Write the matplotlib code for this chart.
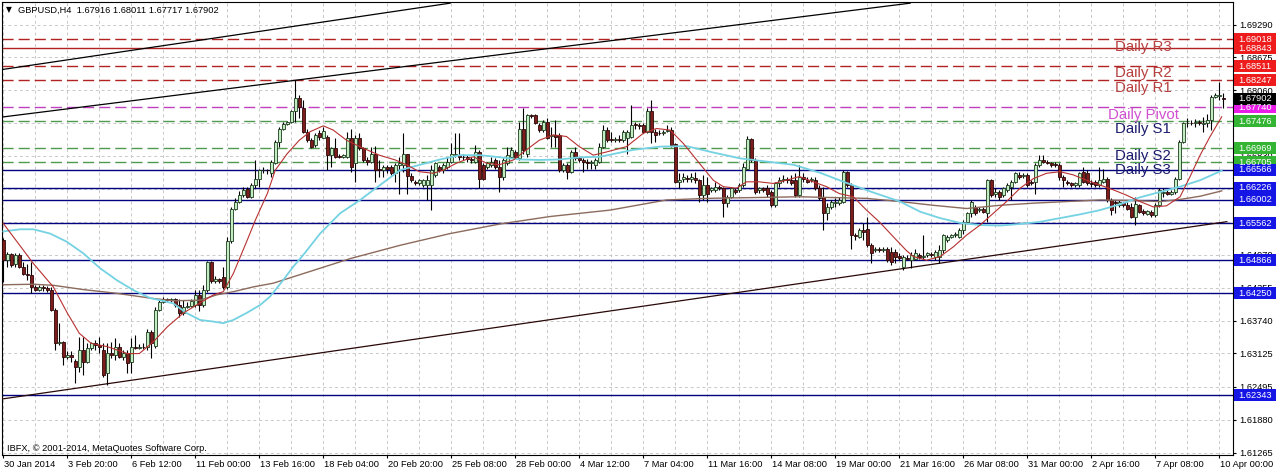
import matplotlib
matplotlib.use("Agg")
import matplotlib.pyplot as plt
import numpy as np
from matplotlib.patches import Rectangle
from matplotlib.transforms import blended_transform_factory, ScaledTranslation

plt.rcParams['font.family'] = ['Liberation Sans', 'DejaVu Sans']

# GBPUSD H4 candles, 306 bars (30 Jan 2014 .. 10 Apr 2014)
opens = [
    1.6525, 1.6487, 1.6498, 1.6480, 1.6497, 1.6475, 1.6462, 1.6459, 1.6437, 1.6432,
    1.6437, 1.6435, 1.6431, 1.6394, 1.6332, 1.6334, 1.6306, 1.6310, 1.6299, 1.6286,
    1.6319, 1.6297, 1.6322, 1.6331, 1.6328, 1.6318, 1.6275, 1.6313, 1.6310, 1.6325,
    1.6306, 1.6314, 1.6297, 1.6324, 1.6322, 1.6325, 1.6324, 1.6353, 1.6326, 1.6394,
    1.6409, 1.6415, 1.6412, 1.6414, 1.6403, 1.6388, 1.6400, 1.6402, 1.6403, 1.6422,
    1.6403, 1.6432, 1.6484, 1.6449, 1.6451, 1.6455, 1.6437, 1.6524, 1.6584, 1.6597,
    1.6609, 1.6620, 1.6606, 1.6628, 1.6639, 1.6656, 1.6657, 1.6650, 1.6670, 1.6709,
    1.6734, 1.6742, 1.6747, 1.6766, 1.6791, 1.6772, 1.6728, 1.6712, 1.6703, 1.6726,
    1.6717, 1.6719, 1.6684, 1.6697, 1.6682, 1.6681, 1.6681, 1.6716, 1.6669, 1.6716,
    1.6697, 1.6675, 1.6672, 1.6686, 1.6659, 1.6656, 1.6662, 1.6662, 1.6650, 1.6666,
    1.6666, 1.6686, 1.6645, 1.6634, 1.6631, 1.6628, 1.6628, 1.6628, 1.6647, 1.6662,
    1.6656, 1.6662, 1.6672, 1.6684, 1.6684, 1.6681, 1.6680, 1.6677, 1.6672, 1.6690,
    1.6666, 1.6662, 1.6666, 1.6675, 1.6662, 1.6644, 1.6669, 1.6681, 1.6690, 1.6678,
    1.6734, 1.6687, 1.6759, 1.6759, 1.6741, 1.6731, 1.6747, 1.6720, 1.6722, 1.6722,
    1.6656, 1.6666, 1.6653, 1.6690, 1.6678, 1.6675, 1.6671, 1.6669, 1.6666, 1.6672,
    1.6700, 1.6731, 1.6714, 1.6712, 1.6714, 1.6712, 1.6716, 1.6719, 1.6742, 1.6741,
    1.6741, 1.6728, 1.6766, 1.6728, 1.6726, 1.6725, 1.6730, 1.6732, 1.6705, 1.6634,
    1.6640, 1.6642, 1.6640, 1.6642, 1.6637, 1.6609, 1.6628, 1.6619, 1.6619, 1.6625,
    1.6622, 1.6594, 1.6606, 1.6619, 1.6619, 1.6628, 1.6659, 1.6714, 1.6675, 1.6619,
    1.6622, 1.6622, 1.6615, 1.6590, 1.6631, 1.6637, 1.6640, 1.6637, 1.6637, 1.6609,
    1.6644, 1.6638, 1.6637, 1.6637, 1.6622, 1.6606, 1.6575, 1.6587, 1.6595, 1.6594,
    1.6597, 1.6653, 1.6628, 1.6534, 1.6531, 1.6544, 1.6545, 1.6515, 1.6507, 1.6509,
    1.6507, 1.6509, 1.6503, 1.6503, 1.6495, 1.6475, 1.6492, 1.6487, 1.6490, 1.6497,
    1.6494, 1.6497, 1.6498, 1.6494, 1.6494, 1.6506, 1.6525, 1.6530, 1.6534, 1.6531,
    1.6544, 1.6559, 1.6575, 1.6587, 1.6582, 1.6584, 1.6575, 1.6637, 1.6612, 1.6615,
    1.6609, 1.6619, 1.6625, 1.6634, 1.6647, 1.6645, 1.6647, 1.6634, 1.6634, 1.6666,
    1.6675, 1.6672, 1.6669, 1.6667, 1.6666, 1.6644, 1.6634, 1.6631, 1.6628, 1.6628,
    1.6653, 1.6650, 1.6632, 1.6634, 1.6628, 1.6634, 1.6640, 1.6600, 1.6597, 1.6590,
    1.6594, 1.6590, 1.6587, 1.6569, 1.6590, 1.6580, 1.6574, 1.6578, 1.6572, 1.6590,
    1.6614, 1.6615, 1.6612, 1.6615, 1.6640, 1.6709, 1.6744, 1.6745, 1.6744, 1.6746,
    1.6742, 1.6744, 1.6750, 1.6793, 1.6795, 1.67916]
highs = [
    1.6528, 1.6503, 1.6501, 1.6500, 1.6500, 1.6484, 1.6480, 1.6484, 1.6441, 1.6440,
    1.6440, 1.6439, 1.6436, 1.6397, 1.6369, 1.6336, 1.6316, 1.6316, 1.6301, 1.6344,
    1.6344, 1.6331, 1.6334, 1.6337, 1.6344, 1.6331, 1.6331, 1.6334, 1.6341, 1.6331,
    1.6319, 1.6319, 1.6341, 1.6347, 1.6330, 1.6331, 1.6359, 1.6356, 1.6400, 1.6412,
    1.6419, 1.6417, 1.6417, 1.6417, 1.6415, 1.6412, 1.6408, 1.6415, 1.6431, 1.6431,
    1.6441, 1.6486, 1.6486, 1.6457, 1.6453, 1.6475, 1.6530, 1.6587, 1.6603, 1.6616,
    1.6625, 1.6625, 1.6631, 1.6675, 1.6659, 1.6661, 1.6659, 1.6675, 1.6712, 1.6737,
    1.6747, 1.6749, 1.6768, 1.6825, 1.6797, 1.6787, 1.6734, 1.6716, 1.6725, 1.6731,
    1.6737, 1.6722, 1.6700, 1.6716, 1.6686, 1.6686, 1.6728, 1.6734, 1.6722, 1.6725,
    1.6700, 1.6681, 1.6700, 1.6701, 1.6675, 1.6666, 1.6666, 1.6666, 1.6669, 1.6681,
    1.6725, 1.6687, 1.6650, 1.6637, 1.6640, 1.6640, 1.6647, 1.6666, 1.6672, 1.6666,
    1.6669, 1.6681, 1.6706, 1.6725, 1.6725, 1.6687, 1.6684, 1.6681, 1.6703, 1.6694,
    1.6669, 1.6672, 1.6681, 1.6678, 1.6675, 1.6678, 1.6700, 1.6700, 1.6694, 1.6747,
    1.6772, 1.6762, 1.6762, 1.6762, 1.6744, 1.6750, 1.6753, 1.6737, 1.6750, 1.6725,
    1.6669, 1.6669, 1.6694, 1.6700, 1.6681, 1.6678, 1.6676, 1.6675, 1.6678, 1.6706,
    1.6741, 1.6737, 1.6728, 1.6719, 1.6722, 1.6731, 1.6731, 1.6778, 1.6747, 1.6744,
    1.6744, 1.6772, 1.6787, 1.6734, 1.6731, 1.6731, 1.6741, 1.6737, 1.6706, 1.6650,
    1.6650, 1.6647, 1.6650, 1.6653, 1.6640, 1.6647, 1.6644, 1.6625, 1.6634, 1.6628,
    1.6625, 1.6609, 1.6625, 1.6622, 1.6631, 1.6669, 1.6720, 1.6717, 1.6678, 1.6625,
    1.6625, 1.6628, 1.6619, 1.6634, 1.6644, 1.6647, 1.6644, 1.6647, 1.6650, 1.6666,
    1.6650, 1.6644, 1.6644, 1.6644, 1.6628, 1.6625, 1.6594, 1.6600, 1.6603, 1.6606,
    1.6656, 1.6655, 1.6631, 1.6539, 1.6547, 1.6556, 1.6569, 1.6519, 1.6512, 1.6512,
    1.6512, 1.6512, 1.6512, 1.6509, 1.6500, 1.6497, 1.6497, 1.6503, 1.6509, 1.6500,
    1.6534, 1.6503, 1.6503, 1.6506, 1.6515, 1.6537, 1.6534, 1.6537, 1.6540, 1.6547,
    1.6562, 1.6578, 1.6600, 1.6590, 1.6587, 1.6587, 1.6640, 1.6640, 1.6622, 1.6619,
    1.6625, 1.6631, 1.6637, 1.6653, 1.6653, 1.6650, 1.6650, 1.6637, 1.6669, 1.6684,
    1.6684, 1.6675, 1.6672, 1.6672, 1.6669, 1.6647, 1.6637, 1.6634, 1.6634, 1.6653,
    1.6662, 1.6656, 1.6637, 1.6637, 1.6662, 1.6659, 1.6644, 1.6603, 1.6600, 1.6600,
    1.6597, 1.6597, 1.6594, 1.6606, 1.6592, 1.6584, 1.6582, 1.6581, 1.6594, 1.6622,
    1.6622, 1.6619, 1.6619, 1.6644, 1.6712, 1.6747, 1.6753, 1.6750, 1.6751, 1.6750,
    1.6756, 1.6762, 1.6797, 1.6800, 1.6822, 1.68011]
lows = [
    1.6447, 1.6475, 1.6475, 1.6474, 1.6472, 1.6459, 1.6450, 1.6425, 1.6430, 1.6430,
    1.6430, 1.6428, 1.6391, 1.6319, 1.6328, 1.6291, 1.6302, 1.6297, 1.6256, 1.6278,
    1.6272, 1.6294, 1.6319, 1.6319, 1.6313, 1.6269, 1.6253, 1.6303, 1.6300, 1.6303,
    1.6300, 1.6275, 1.6275, 1.6320, 1.6320, 1.6320, 1.6319, 1.6303, 1.6322, 1.6391,
    1.6406, 1.6408, 1.6409, 1.6400, 1.6381, 1.6384, 1.6397, 1.6400, 1.6400, 1.6391,
    1.6400, 1.6428, 1.6444, 1.6445, 1.6445, 1.6434, 1.6434, 1.6519, 1.6581, 1.6594,
    1.6605, 1.6603, 1.6603, 1.6622, 1.6625, 1.6650, 1.6649, 1.6644, 1.6667, 1.6699,
    1.6731, 1.6740, 1.6745, 1.6747, 1.6753, 1.6725, 1.6709, 1.6697, 1.6700, 1.6712,
    1.6716, 1.6656, 1.6662, 1.6678, 1.6678, 1.6678, 1.6678, 1.6653, 1.6634, 1.6694,
    1.6672, 1.6666, 1.6669, 1.6634, 1.6644, 1.6644, 1.6650, 1.6647, 1.6634, 1.6612,
    1.6653, 1.6612, 1.6634, 1.6628, 1.6628, 1.6625, 1.6600, 1.6581, 1.6644, 1.6653,
    1.6650, 1.6659, 1.6669, 1.6681, 1.6675, 1.6675, 1.6672, 1.6670, 1.6669, 1.6622,
    1.6637, 1.6659, 1.6662, 1.6659, 1.6615, 1.6637, 1.6666, 1.6678, 1.6678, 1.6675,
    1.6687, 1.6681, 1.6753, 1.6742, 1.6728, 1.6728, 1.6714, 1.6700, 1.6700, 1.6653,
    1.6653, 1.6640, 1.6650, 1.6675, 1.6672, 1.6653, 1.6659, 1.6659, 1.6659, 1.6669,
    1.6697, 1.6709, 1.6709, 1.6709, 1.6709, 1.6709, 1.6687, 1.6716, 1.6734, 1.6734,
    1.6725, 1.6725, 1.6706, 1.6709, 1.6722, 1.6722, 1.6728, 1.6700, 1.6631, 1.6622,
    1.6634, 1.6634, 1.6634, 1.6632, 1.6597, 1.6600, 1.6597, 1.6615, 1.6615, 1.6619,
    1.6569, 1.6587, 1.6603, 1.6612, 1.6615, 1.6625, 1.6656, 1.6672, 1.6612, 1.6614,
    1.6615, 1.6606, 1.6587, 1.6587, 1.6625, 1.6634, 1.6631, 1.6628, 1.6606, 1.6606,
    1.6634, 1.6632, 1.6634, 1.6619, 1.6600, 1.6544, 1.6562, 1.6584, 1.6587, 1.6590,
    1.6594, 1.6625, 1.6509, 1.6525, 1.6528, 1.6525, 1.6512, 1.6481, 1.6503, 1.6503,
    1.6503, 1.6484, 1.6478, 1.6481, 1.6487, 1.6469, 1.6487, 1.6472, 1.6487, 1.6490,
    1.6490, 1.6494, 1.6494, 1.6487, 1.6481, 1.6500, 1.6522, 1.6528, 1.6531, 1.6528,
    1.6537, 1.6556, 1.6569, 1.6572, 1.6578, 1.6575, 1.6559, 1.6606, 1.6606, 1.6600,
    1.6606, 1.6615, 1.6600, 1.6631, 1.6640, 1.6642, 1.6625, 1.6628, 1.6612, 1.6662,
    1.6669, 1.6667, 1.6662, 1.6662, 1.6637, 1.6625, 1.6628, 1.6625, 1.6625, 1.6625,
    1.6631, 1.6628, 1.6625, 1.6625, 1.6625, 1.6631, 1.6597, 1.6572, 1.6575, 1.6587,
    1.6587, 1.6581, 1.6566, 1.6553, 1.6575, 1.6572, 1.6572, 1.6569, 1.6569, 1.6587,
    1.6606, 1.6609, 1.6609, 1.6612, 1.6637, 1.6706, 1.6737, 1.6741, 1.6737, 1.6741,
    1.6728, 1.6737, 1.6731, 1.6791, 1.6787, 1.67717]
closes = [
    1.6487, 1.6498, 1.6478, 1.6497, 1.6475, 1.6462, 1.6459, 1.6437, 1.6432, 1.6437,
    1.6435, 1.6431, 1.6394, 1.6332, 1.6334, 1.6306, 1.6310, 1.6306, 1.6286, 1.6319,
    1.6297, 1.6322, 1.6331, 1.6328, 1.6325, 1.6272, 1.6313, 1.6310, 1.6325, 1.6306,
    1.6314, 1.6295, 1.6324, 1.6322, 1.6325, 1.6324, 1.6353, 1.6331, 1.6394, 1.6409,
    1.6415, 1.6412, 1.6414, 1.6403, 1.6388, 1.6400, 1.6402, 1.6411, 1.6422, 1.6403,
    1.6432, 1.6484, 1.6449, 1.6451, 1.6449, 1.6437, 1.6524, 1.6584, 1.6597, 1.6609,
    1.6618, 1.6606, 1.6628, 1.6640, 1.6656, 1.6657, 1.6656, 1.6672, 1.6709, 1.6734,
    1.6742, 1.6747, 1.6766, 1.6791, 1.6775, 1.6728, 1.6712, 1.6700, 1.6722, 1.6719,
    1.6729, 1.6684, 1.6697, 1.6681, 1.6681, 1.6684, 1.6716, 1.6662, 1.6716, 1.6697,
    1.6675, 1.6672, 1.6687, 1.6656, 1.6656, 1.6662, 1.6659, 1.6650, 1.6666, 1.6669,
    1.6686, 1.6645, 1.6637, 1.6632, 1.6637, 1.6637, 1.6637, 1.6656, 1.6669, 1.6656,
    1.6666, 1.6672, 1.6687, 1.6687, 1.6681, 1.6680, 1.6677, 1.6675, 1.6690, 1.6640,
    1.6640, 1.6669, 1.6672, 1.6662, 1.6644, 1.6675, 1.6684, 1.6694, 1.6681, 1.6734,
    1.6694, 1.6759, 1.6757, 1.6744, 1.6731, 1.6747, 1.6716, 1.6722, 1.6719, 1.6656,
    1.6666, 1.6653, 1.6690, 1.6678, 1.6675, 1.6672, 1.6670, 1.6672, 1.6675, 1.6700,
    1.6731, 1.6712, 1.6712, 1.6714, 1.6712, 1.6728, 1.6728, 1.6741, 1.6741, 1.6739,
    1.6728, 1.6766, 1.6728, 1.6722, 1.6725, 1.6727, 1.6731, 1.6703, 1.6634, 1.6637,
    1.6644, 1.6639, 1.6644, 1.6637, 1.6609, 1.6628, 1.6612, 1.6622, 1.6625, 1.6622,
    1.6594, 1.6606, 1.6622, 1.6615, 1.6628, 1.6662, 1.6714, 1.6675, 1.6615, 1.6622,
    1.6619, 1.6612, 1.6590, 1.6631, 1.6637, 1.6640, 1.6637, 1.6632, 1.6609, 1.6644,
    1.6640, 1.6634, 1.6640, 1.6622, 1.6603, 1.6575, 1.6587, 1.6597, 1.6597, 1.6600,
    1.6653, 1.6628, 1.6534, 1.6532, 1.6544, 1.6540, 1.6515, 1.6500, 1.6509, 1.6507,
    1.6509, 1.6487, 1.6484, 1.6494, 1.6492, 1.6494, 1.6490, 1.6497, 1.6500, 1.6494,
    1.6495, 1.6500, 1.6497, 1.6503, 1.6506, 1.6534, 1.6531, 1.6534, 1.6537, 1.6544,
    1.6559, 1.6575, 1.6597, 1.6576, 1.6584, 1.6578, 1.6637, 1.6609, 1.6615, 1.6606,
    1.6622, 1.6628, 1.6634, 1.6650, 1.6644, 1.6647, 1.6628, 1.6631, 1.6666, 1.6675,
    1.6672, 1.6670, 1.6666, 1.6666, 1.6644, 1.6637, 1.6631, 1.6628, 1.6631, 1.6650,
    1.6634, 1.6631, 1.6630, 1.6628, 1.6637, 1.6640, 1.6600, 1.6581, 1.6594, 1.6597,
    1.6590, 1.6584, 1.6569, 1.6592, 1.6578, 1.6575, 1.6580, 1.6572, 1.6590, 1.6619,
    1.6615, 1.6612, 1.6615, 1.6640, 1.6709, 1.6744, 1.6745, 1.6744, 1.6746, 1.6744,
    1.6745, 1.6750, 1.6794, 1.6797, 1.6797, 1.67902]

# moving averages (bar index, price)
fast_idx = [0, 7.5, 12.5, 16, 19, 22, 26, 31, 34, 37.5, 41, 45, 49, 52.5, 55, 57.5, 61, 63, 66, 68,
            71, 74, 76.7, 80, 82.5, 85.8, 90, 94, 98, 100.8, 104, 107.5, 110, 113.3, 117.5, 120.8,
            124, 127.5, 130.8, 134, 137.5, 140.8, 144, 147.5, 150.8, 155.8, 160, 163.3, 166.7, 170,
            174, 177.5, 180, 183.3, 185.8, 189, 192.5, 195.8, 199, 202.5, 205.8, 209, 212.5, 215.8,
            219, 222.5, 225.8, 227.5, 230.8, 234.2, 237.5, 240.8, 244.2, 247.5, 250.8, 254.2, 257.5,
            260.8, 264.2, 267.5, 270.8, 274.2, 277.5, 280.8, 284.2, 287.5, 290.8, 294.2, 296.7,
            299.2, 301.7, 304.6]
fast_val = [1.6556, 1.6481, 1.6437, 1.6388, 1.6350, 1.6331, 1.6325, 1.6312, 1.6312, 1.6334,
            1.6362, 1.6388, 1.6406, 1.6422, 1.6428, 1.6462, 1.6525, 1.6562, 1.6612, 1.6656,
            1.6687, 1.6712, 1.6728, 1.6739, 1.6731, 1.6712, 1.6697, 1.6684, 1.6675, 1.6666,
            1.6653, 1.6650, 1.6656, 1.6669, 1.6681, 1.6669, 1.6666, 1.6675, 1.6694, 1.6712,
            1.6722, 1.6719, 1.6700, 1.6684, 1.6690, 1.6700, 1.6725, 1.6734, 1.6731, 1.6706,
            1.6669, 1.6637, 1.6625, 1.6622, 1.6634, 1.6634, 1.6631, 1.6637, 1.6644, 1.6634,
            1.6625, 1.6612, 1.6606, 1.6581, 1.6559, 1.6531, 1.6505, 1.6494, 1.6487, 1.6494,
            1.6512, 1.6534, 1.6553, 1.6575, 1.6597, 1.6622, 1.6640, 1.6650, 1.6653, 1.6647,
            1.6637, 1.6628, 1.6619, 1.6609, 1.6597, 1.6587, 1.6589, 1.6606, 1.6644, 1.6684,
            1.6719, 1.6756]
mid_idx = [0, 4.2, 7.5, 11.7, 15.8, 20, 24.2, 28.3, 32.5, 36.7, 39.2, 42.5, 45.8, 49.2, 52.5, 55,
           57.5, 60.8, 64.2, 66.7, 70, 72.5, 75, 79.2, 84.2, 89.2, 94.2, 99.2, 104.2, 109.2, 114.2,
           119.2, 124.2, 129.2, 134.2, 139.2, 144.2, 149.2, 157.5, 164.2, 170.8, 177.5, 184.2,
           190.8, 197.5, 204.2, 210.8, 217.5, 224.2, 229.2, 234.2, 239.2, 244.2, 249.2, 254.2,
           259.2, 264.2, 269.2, 274.2, 279.2, 284.2, 289.2, 294.2, 299.2, 304.6]
mid_val = [1.6541, 1.6545, 1.6545, 1.6537, 1.6522, 1.6500, 1.6472, 1.6450, 1.6431, 1.6416,
           1.6412, 1.6406, 1.6388, 1.6375, 1.6372, 1.6369, 1.6375, 1.6388, 1.6403, 1.6419,
           1.6450, 1.6475, 1.6497, 1.6537, 1.6575, 1.6600, 1.6628, 1.6656, 1.6666, 1.6676,
           1.6684, 1.6684, 1.6680, 1.6676, 1.6675, 1.6676, 1.6680, 1.6681, 1.6694, 1.6700,
           1.6701, 1.6689, 1.6678, 1.6672, 1.6666, 1.6651, 1.6632, 1.6614, 1.6597, 1.6578,
           1.6566, 1.6557, 1.6553, 1.6552, 1.6555, 1.6559, 1.6566, 1.6573, 1.6581, 1.6592,
           1.6605, 1.6615, 1.6625, 1.6637, 1.6655]
slow_idx = [0, 7.5, 12.5, 20, 28.3, 36.7, 42.5, 49.2, 53.3, 57.5, 62.5, 67.5, 72.5, 76.7, 86.7,
            99.2, 111.7, 124.2, 136.7, 151.7, 165.8, 175.8, 199.2, 215.8, 224.2, 232.5, 240.8,
            249.2, 257.5, 265.8, 274.2, 282.5, 289.2, 294.2, 299.2, 304.6]
slow_val = [1.6441, 1.6442, 1.6440, 1.6432, 1.6425, 1.6416, 1.6411, 1.6412, 1.6422, 1.6428,
            1.6437, 1.6444, 1.6456, 1.6466, 1.6490, 1.6515, 1.6537, 1.6555, 1.6569, 1.6581,
            1.6600, 1.6603, 1.6606, 1.6603, 1.6597, 1.6590, 1.6584, 1.6590, 1.6594, 1.6597,
            1.6600, 1.6599, 1.6597, 1.6601, 1.6607, 1.6617]

# trend lines: (bar, price) end points
trend_a = [(-0.8, 1.6844), (111.7, 1.6969)]
trend_b = [(-0.8, 1.6755), (226.7, 1.6969)]
trend_c = [(-0.8, 1.62263), (305.9, 1.65593)]

# horizontal levels
levels = [1.69018, 1.68843, 1.68511, 1.68247, 1.67740, 1.67476, 1.66969, 1.66705,
          1.66566, 1.66226, 1.66002, 1.65562, 1.64866, 1.64250, 1.62343]
level_kind = ['R', 'Rs', 'R', 'R', 'P', 'S', 'S', 'S', 'B', 'B', 'B', 'B', 'B', 'B', 'B']
last_price = 1.67902

pivot_names = ['Daily R3', 'Daily R2', 'Daily R1', 'Daily Pivot', 'Daily S1', 'Daily S2', 'Daily S3']
pivot_label_y = [1.68874, 1.68381, 1.68099, 1.67593, 1.67331, 1.66824, 1.66562]

yticks = [1.69290, 1.68675, 1.68060, 1.67445, 1.66830, 1.66215, 1.65585, 1.64970,
          1.64355, 1.63740, 1.63125, 1.62495, 1.61880, 1.61265]
xtick_labels = ['30 Jan 2014', '3 Feb 20:00', '6 Feb 12:00', '11 Feb 00:00', '13 Feb 16:00',
                '18 Feb 04:00', '20 Feb 20:00', '25 Feb 08:00', '28 Feb 00:00', '4 Mar 12:00',
                '7 Mar 04:00', '11 Mar 16:00', '14 Mar 08:00', '19 Mar 00:00', '21 Mar 16:00',
                '26 Mar 08:00', '31 Mar 00:00', '2 Apr 16:00', '7 Apr 08:00', '10 Apr 00:00']

W, H = 1276, 473
fig = plt.figure(figsize=(W / 100, H / 100), dpi=100)
ax = fig.add_axes([2 / W, 18.5 / H, 1231 / W, 452.5 / H])
ax.set_facecolor('white')

# grid
for p in yticks:
    ax.axhline(p, color='#c8c8c8', lw=0.7, ls=(0, (3, 3)), zorder=1)
for i in range(0, 308, 8):
    ax.axvline(i, color='#c8c8c8', lw=0.7, ls=(0, (3, 3)), zorder=1)

line_style = {
    'R': dict(color='#b22222', ls=(0, (8, 3.6))),
    'Rs': dict(color='#b22222', ls='-'),
    'P': dict(color='#c040c0', ls=(0, (8, 3.6))),
    'S': dict(color='#4e9a4e', ls=(0, (8, 3.6))),
    'B': dict(color='#000080', ls='-'),
}
box_color = {'R': '#ee1c1c', 'Rs': '#ee1c1c', 'P': '#e81ee8', 'S': '#33b533', 'B': '#1515e6'}

for p, k in zip(levels, level_kind):
    ax.axhline(p, lw=1.0, zorder=2, **line_style[k])

for (x0, y0), (x1, y1) in (trend_a, trend_b):
    ax.plot([x0, x1], [y0, y1], color='black', lw=0.9, zorder=3)
ax.plot([trend_c[0][0], trend_c[1][0]], [trend_c[0][1], trend_c[1][1]],
        color='#2a0808', lw=0.9, zorder=3)

# candles
o, h, l, c = map(np.array, (opens, highs, lows, closes))
x = np.arange(len(c))
up = c >= o
ax.vlines(x, np.minimum(l, np.minimum(o, c)), np.maximum(h, np.maximum(o, c)),
          color='black', lw=0.8, zorder=4)
lo = np.minimum(o, c)
bh = np.maximum(np.abs(c - o), 0.00005)
ax.bar(x[up], bh[up], bottom=lo[up], width=0.72, color='#c2ecc2',
       edgecolor='#1c3a1c', lw=0.6, zorder=5)
ax.bar(x[~up], bh[~up], bottom=lo[~up], width=0.72, color='#7e1c1c',
       edgecolor='#2a0808', lw=0.6, zorder=5)

# moving averages
ax.plot(slow_idx, slow_val, color='#8c6a5c', lw=1.0, zorder=6)
ax.plot(mid_idx, mid_val, color='#74d2e2', lw=1.3, zorder=6)
ax.plot(fast_idx, fast_val, color='#b83030', lw=0.8, zorder=6)

# pivot texts
pivot_colors = ['#b84040'] * 3 + ['#d050d0'] + ['#1c1c6e'] * 3
for name, py, col in zip(pivot_names, pivot_label_y, pivot_colors):
    ax.text(285, py, name, ha='center', va='center', fontsize=10.8, color=col, zorder=7)

ax.set_xlim(-0.325, 307.425)
ax.set_ylim(1.612275, 1.697119)

ax.yaxis.tick_right()
ax.set_yticks(yticks)
ax.set_yticklabels([f'{v:.5f}' for v in yticks])
ax.set_xticks(np.arange(0, 305, 16))
ax.set_xticklabels(xtick_labels)
ax.tick_params(axis='both', direction='out', length=2.2, width=0.8, color='black',
               labelsize=6.7, labelcolor='black')
ax.tick_params(axis='y', pad=2.2)
ax.tick_params(axis='x', pad=1.4)
for lab in ax.get_xticklabels():
    lab.set_horizontalalignment('left')
    lab.set_transform(lab.get_transform() + ScaledTranslation(0.5 / 72, 0, fig.dpi_scale_trans))
for s in ax.spines.values():
    s.set_color('black')
    s.set_linewidth(0.8)

# price boxes at the right scale
trans = blended_transform_factory(fig.transFigure, ax.transData)
box_h = 12 * 0.0001875
for p, k in list(zip(levels, level_kind)) + [(last_price, 'L')]:
    fc = 'black' if k == 'L' else box_color[k]
    fig.add_artist(Rectangle((1234 / W, p - box_h / 2), 42 / W, box_h, transform=trans,
                             facecolor=fc, edgecolor='none', zorder=10))
    fig.text(1238 / W, p, f'{p:.5f}', transform=trans, color='white', fontsize=6.7,
             ha='left', va='center', zorder=11)

fig.text(6 / W, 1 - 10 / H, '\u25bc', fontsize=5.5, ha='left', va='center', family='DejaVu Sans')
fig.text(18 / W, 1 - 10 / H, 'GBPUSD,H4  1.67916 1.68011 1.67717 1.67902', fontsize=6.7,
         ha='left', va='center')
fig.text(7 / W, 1 - 448 / H, 'IBFX, \u00a9 2001-2014, MetaQuotes Software Corp.', fontsize=6.7,
         ha='left', va='center')

fig.savefig('out.png', dpi=100, facecolor='white')
